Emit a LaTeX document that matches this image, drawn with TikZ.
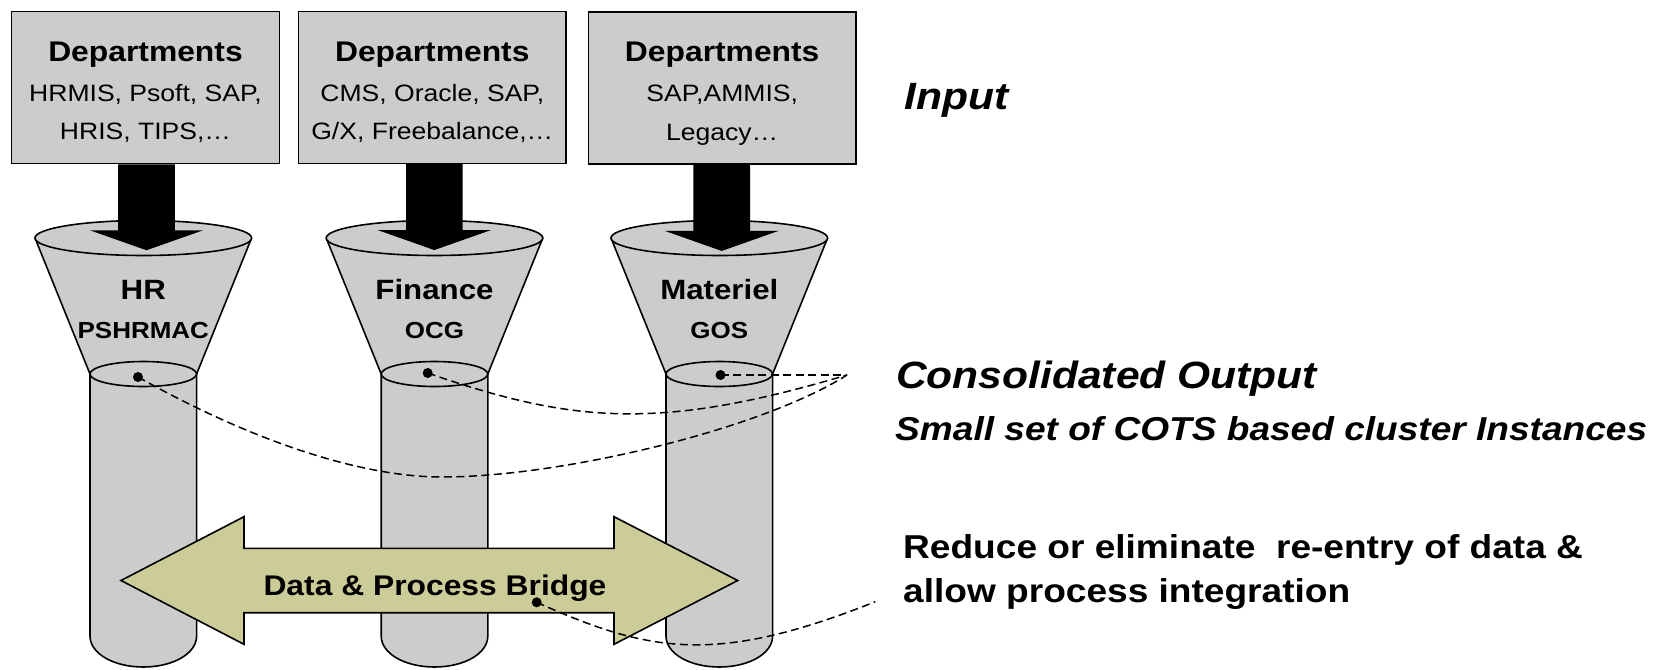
\documentclass[tikz,border=0pt]{standalone}
\usepackage{fontspec}
\setmainfont{Liberation Sans}[FakeStretch=1.12]
\usetikzlibrary{calc,shapes.geometric}
\definecolor{boxgray}{HTML}{CCCCCC}
\definecolor{khaki}{HTML}{CCCC99}
\begin{document}
\begin{tikzpicture}[x=1pt,y=-1pt,
  deptbox/.style={draw=black, fill=boxgray, line width=1.5pt, minimum height=152pt, inner sep=0pt},
  outline/.style={draw=black, line width=1.6pt, line join=round},
  txt/.style={inner sep=0pt, anchor=base},
  headf/.style={txt, font=\fontsize{28.4}{33}\selectfont\bfseries},
  listf/.style={txt, font=\fontsize{23.7}{28}\selectfont},
  titlef/.style={txt, font=\fontsize{27.9}{33}\selectfont\bfseries},
  subf/.style={txt, font=\fontsize{23.2}{27}\selectfont\bfseries},
  bigital/.style={inner sep=0pt, anchor=base west, font=\fontsize{38}{44}\selectfont\bfseries\itshape},
  midital/.style={inner sep=0pt, anchor=base west, font=\fontsize{33.1}{39}\selectfont\bfseries\itshape},
  notef/.style={inner sep=0pt, anchor=base west, font=\fontsize{33.1}{39}\selectfont\bfseries},
  topell/.style={ellipse, draw=black, fill=boxgray, line width=1.6pt, minimum width=216.6pt, minimum height=35pt, inner sep=0pt},
  botell/.style={ellipse, draw=black, fill=boxgray, line width=1.6pt, minimum width=106.6pt, minimum height=25pt, inner sep=0pt},
  dotmark/.style={circle, fill=black, inner sep=0pt, minimum size=10pt},
  leader/.style={draw=black, dash pattern=on 8pt off 4.5pt, line width=1.5pt},
  blockarrow/.style={fill=black},
  bridgeshape/.style={fill=khaki, draw=black, line width=1.6pt, line join=miter},
]
\useasboundingbox (0,0) rectangle (1653,669);

% ---- funnels and cylinders ----
\foreach \cx/\n/\ttl/\sbt in {143.3/1/HR/PSHRMAC, 434.5/2/Finance/OCG, 719.3/3/Materiel/GOS}{
  \filldraw[outline, fill=boxgray] (\cx-53.3,374) -- (\cx-53.3,636)
     .. controls (\cx-53.3,653.7) and (\cx-29.4,667) .. (\cx,667)
     .. controls (\cx+29.4,667) and (\cx+53.3,653.7) .. (\cx+53.3,636)
     -- (\cx+53.3,374) -- cycle;
  \fill[boxgray] (\cx-108.3,238) -- (\cx-53.3,374) -- (\cx+53.3,374) -- (\cx+108.3,238) -- cycle;
  \draw[outline] (\cx-108.3,238) -- (\cx-53.3,374) (\cx+53.3,374) -- (\cx+108.3,238);
  \node[topell] (t\n) at (\cx,238) {};
  \node[botell] (m\n) at (\cx,374) {};
  \node[titlef] (ttl\n) at (\cx,299) {\ttl};
  \node[subf] (sub\n) at (\cx,338) {\sbt};
}

% ---- department boxes ----
\node[deptbox, minimum width=268pt] (b1) at (145.5,87.5) {};
\node[deptbox, minimum width=267.5pt] (b2) at (432.3,87.3) {};
\node[deptbox, minimum width=267.7pt] (b3) at (722.2,88.2) {};

\node[headf] (b1h) at (145.5,62) {Departments};
\node[listf] (b1a) at (145.5,101.5) {HRMIS, Psoft, SAP,};
\node[listf] (b1b) at (145.5,139.5) {HRIS, TIPS,…};
\node[headf] (b2h) at (432.3,62) {Departments};
\node[listf] (b2a) at (432.3,101.5) {CMS, Oracle, SAP,};
\node[listf] (b2b) at (432.3,139.5) {G/X, Freebalance,…};
\node[headf] (b3h) at (722.2,62) {Departments};
\node[listf] (b3a) at (722.2,101.5) {SAP,AMMIS,};
\node[listf] (b3b) at (722.2,140) {Legacy…};

% ---- block arrows from boxes into funnels ----
\foreach \b/\dx in {b1/1, b2/2, b3/-0.5}{
  \fill[blockarrow] ($(\b.south)+(\dx-28.3,0)$) -- ($(\b.south)+(\dx+28.3,0)$)
    -- ($(\b.south)+(\dx+28.3,66)$) -- ($(\b.south)+(\dx+56.7,66)$)
    -- ($(\b.south)+(\dx,86)$) -- ($(\b.south)+(\dx-56.7,66)$)
    -- ($(\b.south)+(\dx-28.3,66)$) -- cycle;
}

% ---- bridge ----
\filldraw[bridgeshape] (121,580.5) -- (244,516.7) -- (244,548.3) -- (614,548.3) -- (614,516.7)
  -- (737.7,580.5) -- (614,644.3) -- (614,612.7) -- (244,612.7) -- (244,644.3) -- cycle;
\node[titlef, font=\fontsize{28.4}{33}\selectfont\bfseries] (bt) at (435,595) {Data \& Process Bridge};

% ---- dots ----
\node[dotmark] (p1) at (138,377) {};
\node[dotmark] (p2) at (427.7,373) {};
\node[dotmark] (p3) at (720.5,375) {};
\node[dotmark] (p4) at (536.7,602.3) {};

% ---- right texts ----
\node[bigital] (inp) at (904,109) {Input};
\node[bigital] (cons) at (896,388) {Consolidated Output};
\node[midital] (small) at (895,440) {Small set of COTS based cluster Instances};
\node[notef] (red1) at (903,558) {Reduce or eliminate\ \ re-entry of data \&};
\node[notef] (red2) at (903,602) {allow process integration};

% ---- dashed leaders ----
\coordinate (conv) at (847,375);
\coordinate (tail) at (875.4,601.7);
\draw[leader] (p1.center) .. controls (250,440) and (360,477) .. (442,477)
   .. controls (560,477) and (760,430) .. (conv);
\draw[leader] (p2.center) .. controls (572,423) and (659,431) .. (conv);
\draw[leader] (p3.center) -- (conv);
\draw[leader] (p4.center) .. controls (650,653) and (716,665) .. (tail);
\end{tikzpicture}
\end{document}
